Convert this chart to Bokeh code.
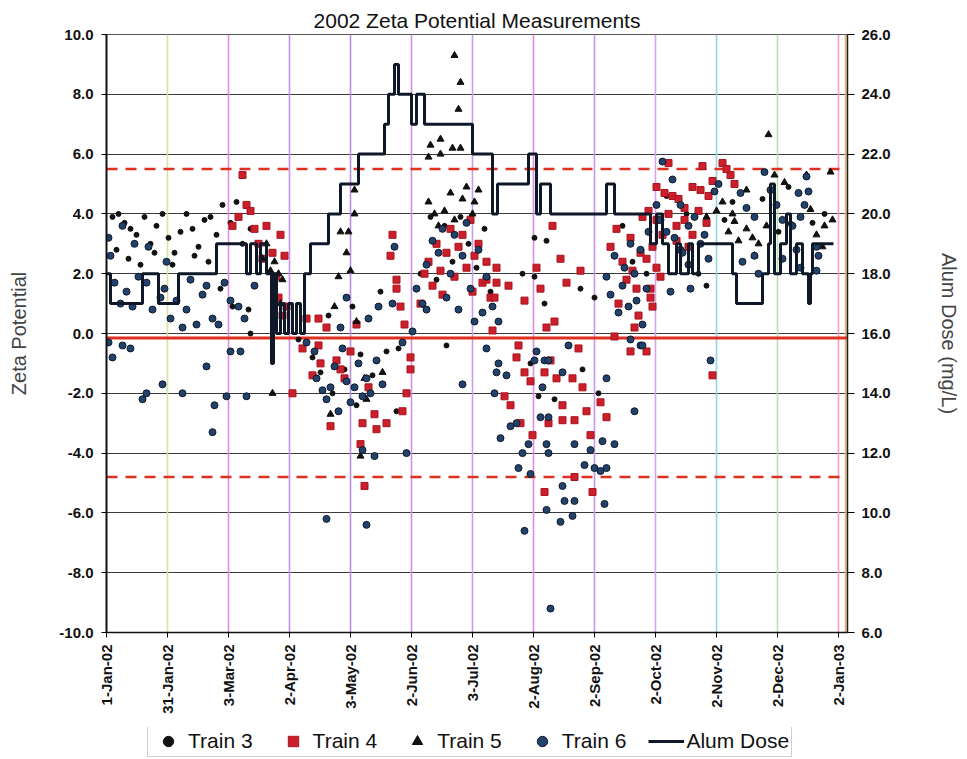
import math
from bokeh.plotting import figure
from bokeh.layouts import column
from bokeh.models import (Range1d, LinearAxis, FixedTicker, NumeralTickFormatter,
                          Span, Legend, LegendItem)
from bokeh.embed import file_html
from bokeh.resources import INLINE

# ---------------- data ----------------
x_tick_days = [0, 30.5, 61, 91.5, 122, 152.5, 183, 213.5, 244, 274.5, 305, 335.5, 366]
x_tick_labels = ["1-Jan-02", "31-Jan-02", "3-Mar-02", "2-Apr-02", "3-May-02", "2-Jun-02",
                 "3-Jul-02", "2-Aug-02", "2-Sep-02", "2-Oct-02", "2-Nov-02", "2-Dec-02", "2-Jan-03"]
zeta_ticks = [-10, -8, -6, -4, -2, 0, 2, 4, 6, 8, 10]
alum_ticks = [6, 8, 10, 12, 14, 16, 18, 20, 22, 24, 26]

zeta_target = -0.15
zeta_upper = 5.5
zeta_lower = -4.8

# (day of year, zeta potential)
train3 = [(3,3.9),(6,4.0),(9,3.7),(12,3.5),(15,3.3),(19,3.9),(22,3.0),(25,3.6),(28,4.0),(31,3.2),
          (34,2.7),(37,3.4),(40,4.0),(43,3.5),(46,2.9),(49,3.8),(52,3.9),(55,3.3),(58,4.3),(62,3.7),
          (65,4.4),(68,3.0),(72,3.5),(5,2.8),(11,2.5),(17,2.3),(24,2.7),(33,2.3),(44,2.6),(51,2.4),
          (57,1.5),(63,0.9),(71,0.8),(72,0.0),
          (96,-0.2),(103,-0.8),(107,-1.3),(113,-2.0),(119,-1.2),(125,-2.4),(127,-0.7),(133,-1.4),
          (140,-0.6),(145,-2.6),(111,0.6),(123,0.9),(137,1.4),(146,-0.5),
          (157,2.0),(162,3.9),(165,1.8),(169,3.6),(173,2.4),(177,3.9),(181,3.0),(185,2.2),(189,3.5),
          (192,1.4),(170,-0.4),
          (214,3.2),(220,3.1),(208,2.0),(214,1.9),(219,1.0),(237,1.5),(244,1.2),(216,-2.1),(212,-1.0),
          (238,-1.2),(224,-2.2),(246,-2.0),
          (258,3.6),(263,2.4),(270,2.0),(280,4.6),(290,4.0),(296,2.0),(309,3.8),(313,4.4),(328,4.5),
          (336,3.4),(341,4.9),(353,3.7),(359,4.0),(300,1.6)]

train4 = [(63,3.6),(66,3.9),(68,5.3),(70,4.3),(72,4.1),(74,3.5),(76,3.0),(78,2.5),(80,3.6),(83,2.7),
          (85,1.9),(87,3.3),(89,2.6),(86,1.2),(90,0.9),(93,-2.0),(88,0.6),
          (100,0.5),(106,0.5),(110,0.2),(125,0.3),(106,-0.4),(107,-1.0),(112,-3.1),(115,-0.9),
          (117,-1.2),(119,-1.5),(128,-3.0),(127,-3.7),(129,-5.1),(134,-2.7),(135,-3.2),(140,-3.0),
          (148,-2.6),(150,-2.0),(152,-1.2),(152,-0.8),(98,-0.5),(103,-1.4),(122,-0.6),(131,-1.8),
          (143,3.3),(142,2.6),(145,1.8),(145,1.5),(147,0.9),(149,0.3),
          (157,1.0),(159,2.0),(161,2.4),(163,1.6),(165,3.0),(167,2.1),(168,1.3),(170,2.7),(172,3.5),
          (174,1.9),(176,2.9),(178,3.3),(180,2.2),(182,3.8),(184,2.6),(186,3.0),(188,1.7),(190,2.4),
          (192,1.2),(193,0.1),(195,2.2),(183,1.4),
          (223,3.6),(215,2.2),(227,2.5),(237,2.1),(230,1.7),(201,1.6),(195,1.7),(190,1.8),(194,1.2),
          (209,1.1),(217,1.5),(224,0.4),(220,0.2),
          (206,-0.4),(205,-0.8),(209,-1.3),(212,-1.6),(219,-1.3),(222,-0.9),(225,-1.5),(233,-1.5),
          (238,-1.8),(236,-0.5),(262,-0.6),(254,-0.1),(202,-2.4),(228,-2.4),(247,-2.3),(250,-2.8),
          (221,-3.0),(207,-3.0),(228,-2.9),(234,-2.9),(242,-3.4),(213,-3.4),(234,-4.8),(219,-5.3),
          (243,-5.3),(199,-2.1),(240,-2.6),
          (252,2.9),(255,3.5),(258,2.4),(260,1.8),(262,3.2),(263,2.1),(265,1.5),(267,2.7),(268,3.9),
          (270,2.5),(272,1.2),(256,1.0),(266,0.6),(271,4.1),(264,0.2),
          (281,5.7),(273,2.9),(275,2.2),(277,1.9),(272,1.5),(273,0.9),(275,4.9),(279,4.7),(283,4.6),
          (286,4.5),(293,4.9),(297,4.8),(301,4.6),(303,5.1),(298,5.6),(308,5.7),(312,5.3),(314,5.0),
          (310,5.5),(275,3.8),(281,4.0),(285,3.6),(289,3.8),(278,3.3),(285,3.1),(291,2.9),(293,3.3),
          (270,-0.6),(303,-1.4),(289,4.2),(296,4.1),(300,3.7)]

train5 = [(78,2.5),(80,3.0),(82,2.1),(84,2.4),(86,2.0),(88,1.8),(83,-2.0),(87,1.0),
          (114,0.9),(117,3.4),(121,3.4),(120,2.7),(122,2.1),(116,1.9),(124,4.8),(124,4.0),(125,0.4),
          (112,-2.7),(129,-1.5),(127,-4.1),(138,-1.3),(130,-2.2),
          (174,9.3),(177,8.4),(176,7.5),(162,6.3),(167,6.5),(161,5.9),(167,6.0),(173,6.2),(177,6.2),
          (161,4.4),(164,4.0),(166,3.6),(169,4.1),(172,4.7),(174,3.8),(178,4.5),(180,4.9),(184,4.4),
          (186,4.8),(183,4.0),
          (331,6.65),(320,4.8),(313,4.0),(314,3.75),(311,3.4),(320,3.5),(323,3.2),(326,3.0),(324,2.6),
          (330,3.6),(334,5.3),(339,5.05),(350,5.3),(352,4.15),(363,3.8),(359,3.6),(355,3.3),(362,5.4),
          (358,2.9),(342,3.7),(316,3.1),(305,4.1),(300,3.9),(308,4.4)]

train6 = [(1,3.2),(2,2.6),(4,1.7),(7,1.0),(8,3.6),(10,1.4),(13,0.9),(14,3.0),(16,1.9),(20,1.7),
          (21,2.9),(23,0.8),(27,1.2),(29,1.5),(30,2.4),(32,0.5),(35,1.1),(38,0.2),(40,0.8),(42,1.8),
          (45,0.3),(48,1.3),(50,1.6),(53,0.5),(56,0.3),(59,1.7),(62,1.1),(66,0.9),(69,0.5),(74,1.6),
          (1,-0.3),(3,-0.8),(8,-0.4),(12,-0.5),(18,-2.2),(20,-2.0),(28,-1.7),(38,-2.0),(50,-1.1),
          (53,-3.3),(54,-2.4),(60,-2.1),(62,-0.6),(67,-0.6),(70,-2.1),
          (100,-0.3),(104,-0.6),(105,-1.5),(108,-1.9),(110,-2.2),(112,-1.8),(114,-1.1),(116,-2.6),
          (118,-0.5),(120,-1.6),(122,-2.3),(124,-1.8),(126,-1.0),(128,-2.1),(130,-1.5),(132,-2.0),
          (135,-0.9),(138,-1.7),(110,-6.2),(130,-6.4),(128,-3.9),(134,-4.1),(150,-4.0),(148,-0.3),
          (153,0.07),(120,1.2),(136,0.9),(143,1.0),(144,2.9),(117,0.2),(131,0.5),(158,1.0),(160,0.8),
          (178,-1.7),
          (155,1.5),(160,2.3),(163,3.1),(166,2.7),(168,3.5),(170,1.2),(172,2.0),(174,3.3),(176,0.8),
          (178,2.6),(180,3.7),(182,1.5),(184,0.4),(186,2.8),(188,0.7),(190,1.9),(193,0.9),(196,0.4),
          (190,-0.5),(196,-1.0),(195,-1.3),(200,-1.4),(194,-2.0),(205,-3.0),(202,-3.1),(197,-3.5),
          (208,-4.0),(206,-4.5),(212,-4.7),(211,-3.7),(209,-6.6),(214,-0.9),(215,-0.6),(218,-1.8),
          (219,-0.9),(221,-0.9),(217,-2.8),(221,-2.8),(220,-3.7),(221,-4.0),(220,-5.9),(228,-1.3),
          (231,-0.4),(228,-5.1),(229,-5.6),(234,-5.6),(233,-6.1),(227,-6.3),(222,-9.2),(234,-3.7),
          (242,-3.9),(239,-4.4),(244,-4.5),(247,-4.6),(250,-4.5),(254,-3.7),(248,-3.6),(249,-5.7),
          (250,-1.5),(262,-0.2),(264,-2.6),(267,-0.4),
          (250,1.9),(252,1.3),(254,2.6),(256,0.7),(258,1.6),(259,2.2),(261,0.9),(262,3.0),(264,2.0),
          (265,1.1),(267,2.8),(268,0.3),(270,1.5),(271,3.4),
          (275,4.3),(278,5.75),(283,5.15),(287,4.3),(277,3.8),(280,3.4),(284,3.2),(287,2.8),(291,3.6),
          (294,3.9),(297,3.0),(299,3.3),(304,4.75),(306,5.0),(282,1.4),(292,1.5),(288,2.7),(291,2.3),
          (301,2.5),(317,4.7),(320,4.2),(324,3.9),(329,5.4),(332,4.8),(335,4.3),(338,3.8),(343,3.6),
          (346,4.7),(349,4.3),(347,3.9),(350,5.25),(351,4.75),(355,2.9),(356,2.6),(355,2.1),(318,2.4),
          (326,2.0),(324,2.6),(338,2.5),(345,2.8),(347,2.2),(302,-0.9),(268,-0.4)]

# (day of year where dose changes, alum dose mg/L)
alum_steps = [(0,18),(2,17),(18,18),(26,17),(36,18),(55,19),(70,18),(72,19),(75,18),(77,19),(80,18),
              (82.5,15),(83.5,18),(85,16),(87,17),(89,16),(91,17),(93,16),(95,17),(97,16),(99,18),
              (102,19),(111,20),(117,21),(126,22),(139,23),(141,24),(144,25),(146,24),(152.5,23),
              (155,24),(159,23),(183,22),(193,20),(195.5,21),(211,22),(215,20),(217,21),(222,20),
              (250,21),(254,20),(272,19),(275,20),(278,19),(281,18),(285,19),(287,18),(291,19),
              (293,18),(296,19),(313,18),(315,17),(328,18),(331,19),(332,21),(334,18),(337,19),
              (340,20),(342,18),(345,19),(348,18),(351,17),(352,18),(353,19),(363.5,19)]

t3_day = [d for d, v in train3]; t3_zeta = [v for d, v in train3]
t4_day = [d for d, v in train4]; t4_zeta = [v for d, v in train4]
t5_day = [d for d, v in train5]; t5_zeta = [v for d, v in train5]
t6_day = [d for d, v in train6]; t6_zeta = [v for d, v in train6]
alum_day = [d for d, v in alum_steps]; alum_dose = [v for d, v in alum_steps]

# ---------------- styling ----------------
FONT = "Liberation Sans"
vgrid_colors = ["#d2e4a0", "#e090e0", "#c890e8", "#b890e0", "#d090e0", "#c0a0f0",
                "#d890e0", "#c898e8", "#d8a0f0", "#90d8e8", "#b8e0b0", "#f0a0c8"]
S3 = dict(marker="circle", size=5, fill_color="#111111", line_color="#111111")
S4 = dict(marker="square", size=7, fill_color="#cc1f2c", line_color="#a8141f")
S5 = dict(marker="triangle", size=7, fill_color="#111111", line_color="#111111")
S6 = dict(marker="circle", size=7, fill_color="#23426b", line_color="#0e1a2c")
SA = dict(line_width=3, line_color="#0f1828")

W = 962
p = figure(width=W, height=727, x_range=Range1d(0, 370.5), y_range=Range1d(-10, 10),
           output_backend="svg", toolbar_location=None,
           min_border_left=106, min_border_right=112, min_border_top=34, min_border_bottom=95)
p.extra_y_ranges = {"alum": Range1d(6, 26)}

p.title.text = "2002 Zeta Potential Measurements"
p.title.align = "center"
p.title.text_font = FONT
p.title.text_font_size = "21px"
p.title.text_font_style = "normal"
p.title.text_color = "#111111"
p.title.standoff = 5

p.outline_line_color = "#555555"
p.xgrid.visible = False
p.ygrid.ticker = FixedTicker(ticks=zeta_ticks)
p.ygrid.grid_line_color = "#3a3a3a"
p.ygrid.grid_line_width = 1

# x axis
p.xaxis.ticker = FixedTicker(ticks=x_tick_days)
p.xaxis.major_label_overrides = {d: l for d, l in zip(x_tick_days, x_tick_labels)}
p.xaxis.major_label_orientation = math.pi / 2
p.xaxis.major_label_text_font = FONT
p.xaxis.major_label_text_font_size = "15px"
p.xaxis.major_label_text_font_style = "bold"
p.xaxis.major_label_text_color = "#111111"
p.xaxis.axis_line_color = "#111111"
p.xaxis.axis_line_width = 1.5
p.xaxis.major_tick_out = 5
p.xaxis.major_tick_in = 0
p.xaxis.minor_tick_line_color = None
p.xaxis.major_label_standoff = 7

# left axis
p.yaxis.ticker = FixedTicker(ticks=zeta_ticks)
p.yaxis.formatter = NumeralTickFormatter(format="0.0")
p.yaxis.axis_label = "Zeta Potential"
p.yaxis.axis_label_text_font = FONT
p.yaxis.axis_label_text_font_size = "20px"
p.yaxis.axis_label_text_font_style = "normal"
p.yaxis.axis_label_standoff = 26
p.yaxis.major_label_text_font = FONT
p.yaxis.major_label_text_font_size = "15px"
p.yaxis.major_label_text_font_style = "bold"
p.yaxis.major_label_text_color = "#111111"
p.yaxis.axis_line_color = "#111111"
p.yaxis.axis_line_width = 2
p.yaxis.major_tick_out = 5
p.yaxis.major_tick_in = 0
p.yaxis.minor_tick_line_color = None
p.yaxis.major_label_standoff = 8

# right axis
ax2 = LinearAxis(y_range_name="alum", ticker=FixedTicker(ticks=alum_ticks),
                 formatter=NumeralTickFormatter(format="0.0"), axis_label="Alum Dose (mg/L)")
ax2.axis_label_text_font = FONT
ax2.axis_label_text_font_size = "20px"
ax2.axis_label_text_font_style = "normal"
ax2.axis_label_standoff = 44
ax2.major_label_text_font = FONT
ax2.major_label_text_font_size = "15px"
ax2.major_label_text_font_style = "bold"
ax2.major_label_text_color = "#111111"
ax2.axis_line_color = "#222222"
ax2.axis_line_width = 1.5
ax2.major_tick_out = 7
ax2.major_tick_in = 0
ax2.minor_tick_line_color = None
ax2.major_label_standoff = 7
p.add_layout(ax2, "right")

# coloured vertical grid lines
for d, c in zip(x_tick_days[1:], vgrid_colors):
    p.add_layout(Span(location=d, dimension="height", line_color=c, line_width=1.6, level="underlay"))
p.add_layout(Span(location=369.6, dimension="height", line_color="#e0b888", line_width=2, level="underlay"))

# reference lines
p.add_layout(Span(location=zeta_target, dimension="width", line_color="#e03020", line_width=3, level="underlay"))
p.add_layout(Span(location=zeta_upper, dimension="width", line_color="#e03020", line_width=2.5,
                  line_dash="11 8", level="underlay"))
p.add_layout(Span(location=zeta_lower, dimension="width", line_color="#e03020", line_width=2.5,
                  line_dash="11 8", level="underlay"))

p.scatter(t3_day, t3_zeta, **S3)
p.scatter(t4_day, t4_zeta, **S4)
p.scatter(t5_day, t5_zeta, **S5)
p.scatter(t6_day, t6_zeta, **S6)
p.step(alum_day, alum_dose, mode="after", y_range_name="alum", **SA)

# ---------------- legend strip below the chart ----------------
# (same series, but the strip's ranges keep every mark out of view; only the legend shows)
lf = figure(width=W, height=30, x_range=Range1d(-2, -1), y_range=Range1d(-2, -1),
            x_axis_type=None, y_axis_type=None, output_backend="svg", toolbar_location=None,
            min_border=0)
lf.outline_line_color = None
lf.xgrid.visible = False
lf.ygrid.visible = False
l3 = lf.scatter(t3_day, t3_zeta, **S3)
l4 = lf.scatter(t4_day, t4_zeta, **S4)
l5 = lf.scatter(t5_day, t5_zeta, **S5)
l6 = lf.scatter(t6_day, t6_zeta, **S6)
la = lf.step(alum_day, alum_dose, mode="after", **SA)

legend = Legend(items=[LegendItem(label="Train 3", renderers=[l3]),
                       LegendItem(label="Train 4", renderers=[l4]),
                       LegendItem(label="Train 5", renderers=[l5]),
                       LegendItem(label="Train 6", renderers=[l6]),
                       LegendItem(label="Alum Dose", renderers=[la])],
                orientation="horizontal", location=(41, 0))
legend.label_text_font = FONT
legend.label_text_font_size = "21px"
legend.label_text_color = "#111111"
legend.glyph_width = 36
legend.glyph_height = 26
legend.label_standoff = 2
legend.spacing = 22
legend.padding = 2
legend.margin = 0
legend.border_line_color = "#a0a0a0"
legend.border_line_width = 1
legend.background_fill_color = "white"
lf.add_layout(legend)

layout = column(p, lf, spacing=0)
open("out.html", "w").write(file_html(layout, INLINE))
